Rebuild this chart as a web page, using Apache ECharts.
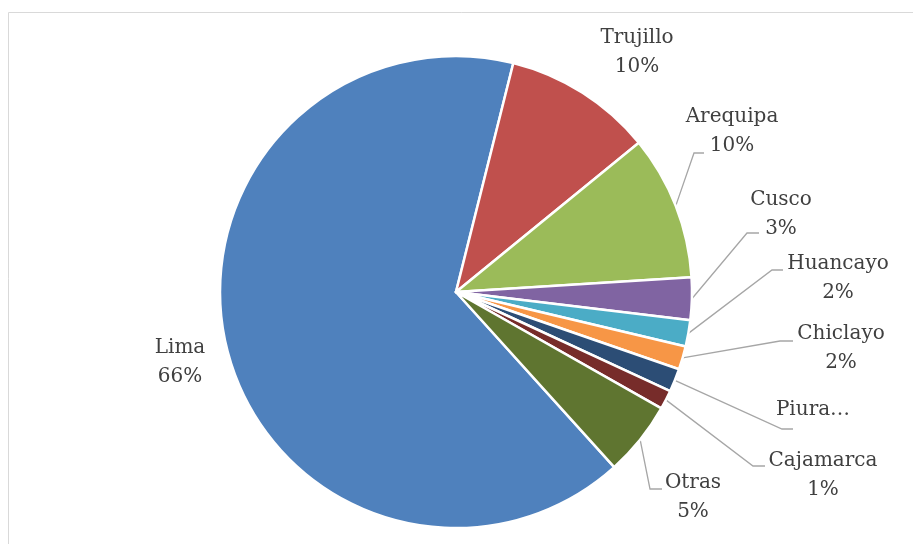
<!DOCTYPE html>
<html>
<head>
<meta charset="utf-8">
<script src="https://cdn.jsdelivr.net/npm/echarts@6/dist/echarts.min.js"></script>
<style>html,body{margin:0;padding:0;background:#fff;}#c{width:913px;height:544px;}</style>
</head>
<body>
<div id="c"></div>
<script>
// Data
var categories = ['Lima', 'Trujillo', 'Arequipa', 'Cusco', 'Huancayo', 'Chiclayo', 'Piura', 'Cajamarca', 'Otras'];
var values = [65.6, 10.2, 9.9, 2.9, 1.8, 1.6, 1.6, 1.3, 5.1];
var labelTexts = ['Lima\n66%', 'Trujillo\n10%', 'Arequipa\n10%', 'Cusco\n3%', 'Huancayo\n2%', 'Chiclayo\n2%', 'Piura…', 'Cajamarca\n1%', 'Otras\n5%'];

// Styling / layout
var colors = ['#4F81BD', '#C0504D', '#9BBB59', '#8064A2', '#4BACC6', '#F79646', '#2C4D75', '#772C2A', '#5F7530'];
var labelCenters = [[180, 362], [637, 52], [732, 131], [781, 214], [838, 278], [841, 348], [813, 410], [823, 475], [693, 497]];
// leader line elbow and end (label side) for each label, null = no line
var leaderEnds = [null, null,
  [[694, 153], [704, 153]],
  [[747, 233], [759, 233]],
  [[772, 270], [783, 270]],
  [[780, 341], [793, 341]],
  [[782, 429], [793, 429]],
  [[753, 466], [765, 466]],
  [[650, 489], [662, 489]]];

var chart = echarts.init(document.getElementById('c'));
var data = categories.map(function (n, i) {
  return {
    name: n,
    value: values[i],
    itemStyle: { color: colors[i] },
    labelLine: { show: leaderEnds[i] !== null }
  };
});

chart.setOption({
  animation: false,
  graphic: [{
    type: 'rect',
    shape: { x: 8.5, y: 12.5, width: 960, height: 600 },
    style: { fill: 'none', stroke: '#d9d9d9', lineWidth: 1 },
    silent: true,
    z: -1
  }],
  series: [{
    type: 'pie',
    center: [456, 292],
    radius: 236,
    startAngle: -47.9,
    clockwise: true,
    data: data,
    itemStyle: { borderColor: '#ffffff', borderWidth: 2.5 },
    label: {
      show: true,
      position: 'outside',
      formatter: function (p) { return labelTexts[p.dataIndex]; },
      fontFamily: 'DejaVu Serif',
      fontSize: 20,
      lineHeight: 29,
      color: '#404040',
      align: 'center'
    },
    labelLine: {
      show: true,
      length: 10,
      length2: 10,
      lineStyle: { color: '#a6a6a6', width: 1.3 }
    },
    labelLayout: function (params) {
      var i = params.dataIndex;
      var c = labelCenters[i];
      var out = { x: c[0], y: c[1], align: 'center', verticalAlign: 'middle' };
      var le = leaderEnds[i];
      if (le && params.labelLinePoints) {
        var p0 = params.labelLinePoints[0];
        out.labelLinePoints = [[p0[0], p0[1]], le[0], le[1]];
      }
      return out;
    }
  }]
});
</script>
</body>
</html>
